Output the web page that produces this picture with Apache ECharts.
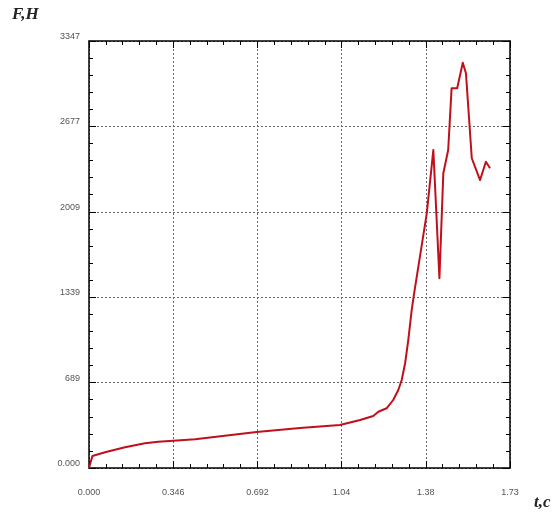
<!DOCTYPE html>
<html>
<head>
<meta charset="utf-8">
<script src="https://cdn.jsdelivr.net/npm/echarts@6/dist/echarts.min.js"></script>
<style>html,body{margin:0;padding:0;background:#fff}#c{width:556px;height:513px}</style>
</head>
<body>
<div id="c"></div>
<script>
const tValues = [0, 0.001, 0.014, 0.066, 0.148, 0.230, 0.285, 0.346, 0.436, 0.689, 0.867, 1.031, 1.114, 1.168, 1.189, 1.223, 1.250, 1.271, 1.285, 1.299, 1.312, 1.326, 1.336, 1.388, 1.415, 1.440, 1.456, 1.476, 1.490, 1.513, 1.536, 1.549, 1.573, 1.607, 1.631, 1.648];
const fValues = [0, 10, 94, 123, 162, 194, 206, 214, 225, 282, 314, 337, 376, 408, 441, 468, 533, 611, 690, 821, 1003, 1238, 1369, 1996, 2493, 1487, 2310, 2493, 2976, 2976, 3177, 3094, 2428, 2257, 2401, 2349];
const xTickLabels = ['0.000', '0.346', '0.692', '1.04', '1.38', '1.73'];
const yTickLabels = ['0.000', '689', '1339', '2009', '2677', '3347'];
const xMax = 1.73, xStep = 0.346;
const yMax = 3347, yStep = 669.4;

const chart = echarts.init(document.getElementById('c'));
const gridLine = { show: true, lineStyle: { color: '#666', width: 1, type: [2, 2] } };
const axisLine = { show: true, onZero: false, lineStyle: { color: '#000', width: 1.5 } };
const tick = { show: true, inside: true, length: 7, lineStyle: { color: '#000', width: 1 } };
const minor = { show: true, splitNumber: 5, length: 4, lineStyle: { color: '#000', width: 1 } };
const lblFont = { color: '#555', fontSize: 9, fontFamily: 'Liberation Sans, Arial, sans-serif' };

chart.setOption({
  animation: false,
  backgroundColor: '#fff',
  grid: { left: 89, top: 41, width: 421, height: 427, containLabel: false },
  xAxis: [
    { type: 'value', min: 0, max: xMax, interval: xStep, position: 'bottom',
      axisLine: axisLine, axisTick: tick, minorTick: minor, splitLine: gridLine,
      axisLabel: Object.assign({ margin: 20, formatter: v => xTickLabels[Math.round(v / xStep)] }, lblFont) },
    { type: 'value', min: 0, max: xMax, interval: xStep, position: 'top',
      axisLine: axisLine, axisTick: tick, minorTick: minor, splitLine: { show: false },
      axisLabel: { show: false } }
  ],
  yAxis: [
    { type: 'value', min: 0, max: yMax, interval: yStep, position: 'left',
      axisLine: axisLine, axisTick: tick, minorTick: minor, splitLine: gridLine,
      axisLabel: Object.assign({ margin: 9, verticalAlign: 'bottom', formatter: v => yTickLabels[Math.round(v / yStep)] }, lblFont) },
    { type: 'value', min: 0, max: yMax, interval: yStep, position: 'right',
      axisLine: axisLine, axisTick: tick, minorTick: minor, splitLine: { show: false },
      axisLabel: { show: false } }
  ],
  series: [{
    type: 'line', xAxisIndex: 0, yAxisIndex: 0,
    data: tValues.map((t, i) => [t, fValues[i]]),
    showSymbol: false, symbol: 'none', smooth: false,
    lineStyle: { color: '#bf101c', width: 2, join: 'round' }
  }],
  graphic: [
    { type: 'text', left: 12, top: 6, style: { text: 'F,H', font: 'italic bold 17px "Liberation Serif", "DejaVu Serif", serif', fill: '#222' } },
    { type: 'text', left: 534, top: 494, style: { text: 't,c', font: 'italic bold 17px "Liberation Serif", "DejaVu Serif", serif', fill: '#222' } }
  ]
});
</script>
</body>
</html>
